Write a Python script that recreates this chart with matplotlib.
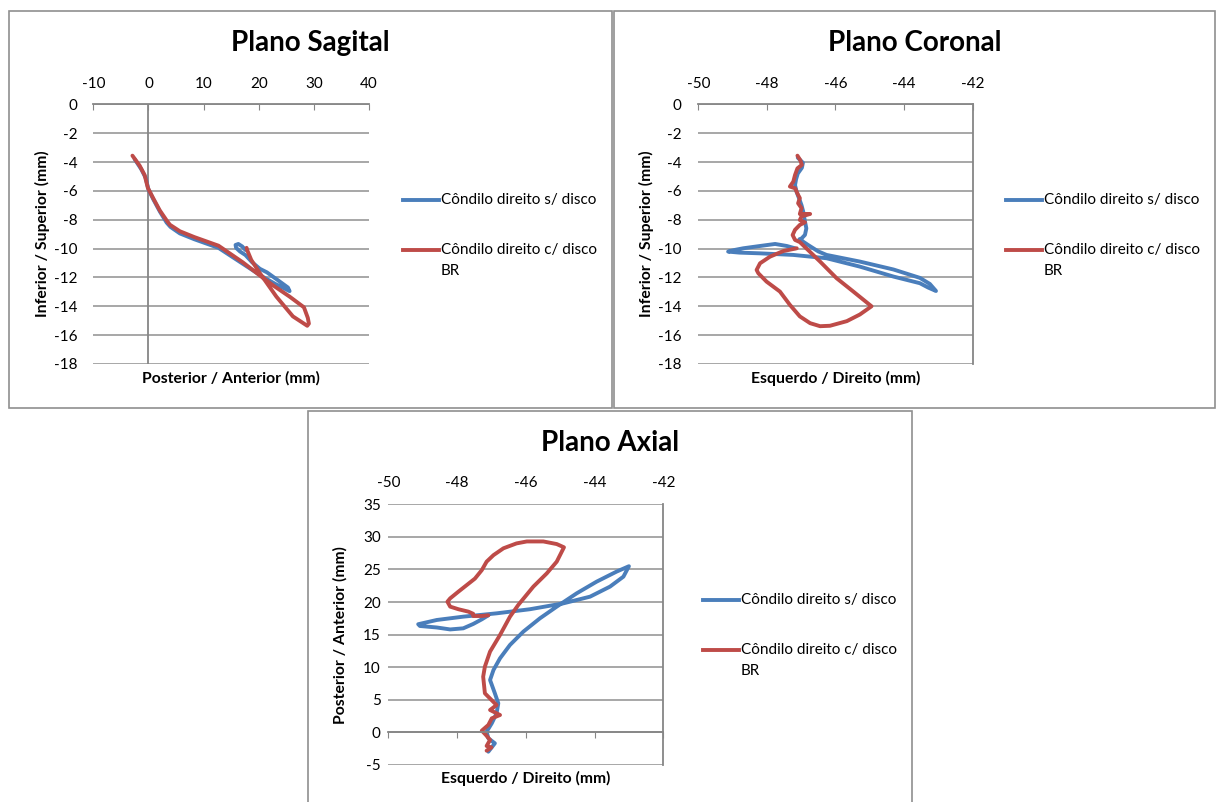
import matplotlib.pyplot as plt
from matplotlib.lines import Line2D
from matplotlib.patches import Rectangle

W, H = 1218, 802
plt.rcParams['font.family'] = ['Lato', 'DejaVu Sans']
plt.rcParams['axes.unicode_minus'] = False

BLUE = '#4a7ebb'
RED = '#be4b48'
GRID = '#a0a0a0'
AXIS = '#868686'
LW = 2.8

series_names = ['Côndilo direito s/ disco', 'Côndilo direito c/ disco\nBR']

# Plano Sagital: posterior/anterior (x) vs inferior/superior (y), mm
sag_x_s = [-2.5, -1.3, -0.5, 0.0, 0.9, 2.1, 3.3, 4.0, 5.7, 8.3, 12.7, 17.1, 20.5, 23.0, 25.6,
           25.3, 23.5, 21.5, 20.2, 18.8, 17.6, 16.6, 15.9, 15.8, 16.3, 17.0, 17.6]
sag_y_s = [-3.8, -4.5, -5.1, -5.9, -6.6, -7.45, -8.2, -8.5, -8.95, -9.35, -9.95, -11.05, -11.9, -12.45, -12.95,
           -12.7, -12.2, -11.65, -11.4, -10.95, -10.45, -10.2, -9.95, -9.75, -9.68, -9.85, -10.1]
sag_x_c = [-2.9, -1.6, -0.7, -0.1, 0.85, 2.05, 3.3, 3.9, 5.7, 8.3, 12.7, 17.1, 20.5, 22.6, 25.6, 28.2,
           28.9, 29.1, 28.8, 26.2, 23.2, 20.2, 18.65, 17.9, 17.8]
sag_y_c = [-3.56, -4.25, -4.9, -5.8, -6.5, -7.35, -8.05, -8.35, -8.8, -9.2, -9.8, -10.95, -11.95, -12.55, -13.33, -14.07,
           -14.8, -15.2, -15.35, -14.7, -13.33, -11.7, -10.79, -10.1, -9.95]

# Plano Coronal: esquerdo/direito (x) vs inferior/superior (y), mm
cor_x_s = [-47.1, -46.95, -46.98, -47.1, -47.15, -47.18, -47.13, -47.05, -46.99, -46.94, -46.9, -46.85, -46.89,
           -46.99, -47.05, -46.8, -46.5, -46.26, -45.29, -44.31, -43.54, -43.25, -43.07,
           -43.3, -43.54, -44.31, -45.29, -46.26, -47.23, -48.2, -48.8, -49.13,
           -48.95, -48.69, -48.2, -47.76, -47.42, -47.18]
cor_y_s = [-3.7, -4.05, -4.4, -4.8, -5.2, -5.6, -6.1, -6.6, -7.0, -7.45, -8.0, -8.6, -9.05,
           -9.3, -9.35, -9.75, -10.2, -10.44, -10.9, -11.45, -12.03, -12.45, -12.94,
           -12.7, -12.4, -11.94, -11.25, -10.67, -10.44, -10.33, -10.28, -10.21,
           -10.1, -9.98, -9.82, -9.68, -9.82, -9.98]
cor_x_c = [-47.11, -47.03, -46.98, -47.11, -47.18, -47.23, -47.33, -47.18, -47.09, -47.04, -47.09, -46.99,
           -47.04, -46.74, -46.99, -47.04, -46.89, -47.04, -47.18, -47.25, -47.18, -47.04, -46.45, -45.97,
           -45.48, -44.95, -45.29, -45.67, -46.16, -46.45, -46.74, -47.04, -47.33, -47.62, -48.01, -48.25,
           -48.3, -48.2, -47.91, -47.52, -47.13]
cor_y_c = [-3.56, -3.86, -4.2, -4.44, -4.9, -5.36, -5.7, -5.82, -6.28, -6.5, -6.86, -7.2,
           -7.6, -7.6, -7.77, -8.02, -8.18, -8.36, -8.7, -9.06, -9.4, -9.55, -10.9, -12.05,
           -12.98, -14.0, -14.57, -15.03, -15.35, -15.38, -15.17, -14.7, -13.9, -12.98, -12.29, -11.71,
           -11.48, -11.02, -10.56, -10.17, -9.98]

# Plano Axial: esquerdo/direito (x) vs posterior/anterior (y), mm
axi_x_s = [-47.09, -46.99, -46.9, -47.09, -47.14, -46.99, -46.85, -46.8, -46.9, -47.04, -46.94, -46.75,
           -46.46, -46.07, -45.59, -45.1, -44.52, -43.94, -43.36, -43.0, -43.16, -43.55, -44.13, -44.91,
           -45.88, -46.85, -47.82, -48.59, -49.13, -49.08, -48.59, -48.2, -47.82, -47.53, -47.28, -47.09]
axi_y_s = [-2.96, -2.28, -1.67, -0.9, 0.11, 1.4, 2.93, 4.47, 6.0, 8.04, 9.58, 11.37,
           13.42, 15.47, 17.5, 19.3, 21.34, 23.13, 24.67, 25.5, 23.9, 22.37, 20.83, 19.8,
           18.9, 18.27, 17.76, 17.25, 16.6, 16.33, 16.1, 15.8, 15.97, 16.64, 17.35, 17.97]
axi_x_c = [-47.14, -47.0, -47.14, -47.04, -47.16, -47.28, -47.09, -46.99, -46.75, -47.04, -46.85, -46.95,
           -47.19, -47.24, -47.19, -47.04, -46.75, -46.46, -46.22, -45.78, -45.39, -45.1, -44.89, -45.1,
           -45.49, -45.97, -46.27, -46.65, -46.94, -47.14, -47.28, -47.48, -47.72, -47.96, -48.2, -48.28,
           -48.2, -47.96, -47.67, -47.53, -47.53, -47.28, -47.09]
axi_y_c = [-2.8, -2.3, -2.08, -1.16, -0.4, 0.27, 1.14, 2.16, 2.67, 3.44, 4.2, 4.72,
           6.0, 8.55, 10.1, 12.4, 14.95, 17.76, 19.55, 22.37, 24.4, 26.2, 28.4, 28.9,
           29.3, 29.3, 29.0, 28.25, 27.2, 26.2, 24.9, 23.6, 22.6, 21.6, 20.57, 20.06,
           19.3, 18.9, 18.53, 18.2, 17.86, 17.86, 17.97]

fig = plt.figure(figsize=(W / 100, H / 100), dpi=100)


def fx(px):
    return px / W


def fy(py):
    return 1 - py / H


def make_ax(left, top, right, bottom):
    return fig.add_axes([fx(left), fy(bottom), fx(right) - fx(left), fy(top) - fy(bottom)])


# panel frames (pixel boxes)
for x0, y0, x1, y1 in [(9, 11, 612, 408), (614, 11, 1215, 408), (308, 411, 912, 806)]:
    fig.add_artist(Rectangle((fx(x0), fy(y1)), fx(x1) - fx(x0), fy(y0) - fy(y1),
                             transform=fig.transFigure, fill=False, edgecolor='#8f8f8f', lw=1.2))


def common(ax, title, box, xlabel, ylabel, lab_x, lab_y):
    ax.set_axisbelow(True)
    ax.yaxis.grid(True, color=GRID, lw=1.3)
    for s in ax.spines.values():
        s.set_visible(False)
    ax.tick_params(axis='both', labelsize=11, colors='black')
    ax.tick_params(axis='y', length=0)
    ax.set_xlabel(xlabel, fontsize=11.3, fontweight='bold', va='center', ha='center')
    ax.set_ylabel(ylabel, fontsize=11.3, fontweight='bold', va='center', ha='center')
    l, b, w, h = ax.get_position().bounds
    ax.xaxis.set_label_coords(0.5, (fy(lab_y) - b) / h)
    ax.yaxis.set_label_coords((fx(lab_x) - l) / w, 0.5)
    x0, y0, x1, y1 = box
    fig.text(fx((x0 + x1) / 2), fy(y0 + 32), title, fontsize=20, fontweight='bold',
             ha='center', va='center')
    # legend, placed as in the original (handle aligned with first text line)
    tx = x1 - 172
    for i, (name, col) in enumerate(zip(series_names, [BLUE, RED])):
        yy = y0 + 189 + 50 * i
        fig.add_artist(Line2D([fx(tx - 37), fx(tx - 1)], [fy(yy), fy(yy)], color=col, lw=LW,
                              transform=fig.transFigure))
        for j, part in enumerate(name.split('\n')):
            fig.text(fx(tx + 1), fy(yy + 21 * j), part, fontsize=11, ha='left', va='center')


def draw(ax, xs, ys, col):
    ax.plot(xs, ys, color=col, lw=LW, solid_joinstyle='round', solid_capstyle='round')


# --- Plano Sagital ---
ax1 = make_ax(93.3, 104.3, 369, 364)
draw(ax1, sag_x_s, sag_y_s, BLUE)
draw(ax1, sag_x_c, sag_y_c, RED)
ax1.set_xlim(-10, 40)
ax1.set_ylim(-18, 0)
ax1.set_xticks(range(-10, 41, 10))
ax1.set_yticks(range(-18, 1, 2))
ax1.xaxis.tick_top()
common(ax1, 'Plano Sagital', (9, 11, 612, 408), 'Posterior / Anterior (mm)',
       'Inferior / Superior (mm)', 42, 378)
ax1.spines['top'].set_visible(True)
ax1.spines['top'].set_color(AXIS)
ax1.spines['top'].set_linewidth(1.3)
ax1.axvline(0, color=AXIS, lw=1.3, zorder=1.5)
ax1.tick_params(axis='x', direction='in', length=4, color=AXIS, pad=9.5)
ax1.tick_params(axis='y', pad=11.5)

# --- Plano Coronal ---
ax2 = make_ax(698.3, 104.3, 972.7, 364)
draw(ax2, cor_x_s, cor_y_s, BLUE)
draw(ax2, cor_x_c, cor_y_c, RED)
ax2.set_xlim(-50, -42)
ax2.set_ylim(-18, 0)
ax2.set_xticks(range(-50, -41, 2))
ax2.set_yticks(range(-18, 1, 2))
ax2.xaxis.tick_top()
common(ax2, 'Plano Coronal', (614, 11, 1215, 408), 'Esquerdo / Direito (mm)',
       'Inferior / Superior (mm)', 646, 378)
for side in ['top', 'right']:
    ax2.spines[side].set_visible(True)
    ax2.spines[side].set_color(AXIS)
    ax2.spines[side].set_linewidth(1.3)
ax2.tick_params(axis='x', direction='in', length=4, color=AXIS, pad=9.5)
ax2.tick_params(axis='y', pad=12)

# --- Plano Axial ---
ax3 = make_ax(388.3, 504.3, 663.3, 765)
draw(ax3, axi_x_s, axi_y_s, BLUE)
draw(ax3, axi_x_c, axi_y_c, RED)
ax3.set_xlim(-50, -42)
ax3.set_ylim(-5, 35)
ax3.set_xticks(range(-50, -41, 2))
ax3.set_yticks(range(-5, 36, 5))
common(ax3, 'Plano Axial', (308, 411, 912, 806), 'Esquerdo / Direito (mm)',
       'Posterior / Anterior (mm)', 340, 778)
ax3.spines['right'].set_visible(True)
ax3.spines['right'].set_color(AXIS)
ax3.spines['right'].set_linewidth(1.3)
ax3.spines['bottom'].set_visible(True)
ax3.spines['bottom'].set_position(('data', 0))
ax3.spines['bottom'].set_color(AXIS)
ax3.spines['bottom'].set_linewidth(1.3)
ax3.tick_params(axis='x', bottom=True, top=False, labelbottom=False, labeltop=True,
                direction='out', length=4, color=AXIS, pad=6.5)
ax3.tick_params(axis='y', pad=5.5)

fig.savefig('out.png', dpi=100)
